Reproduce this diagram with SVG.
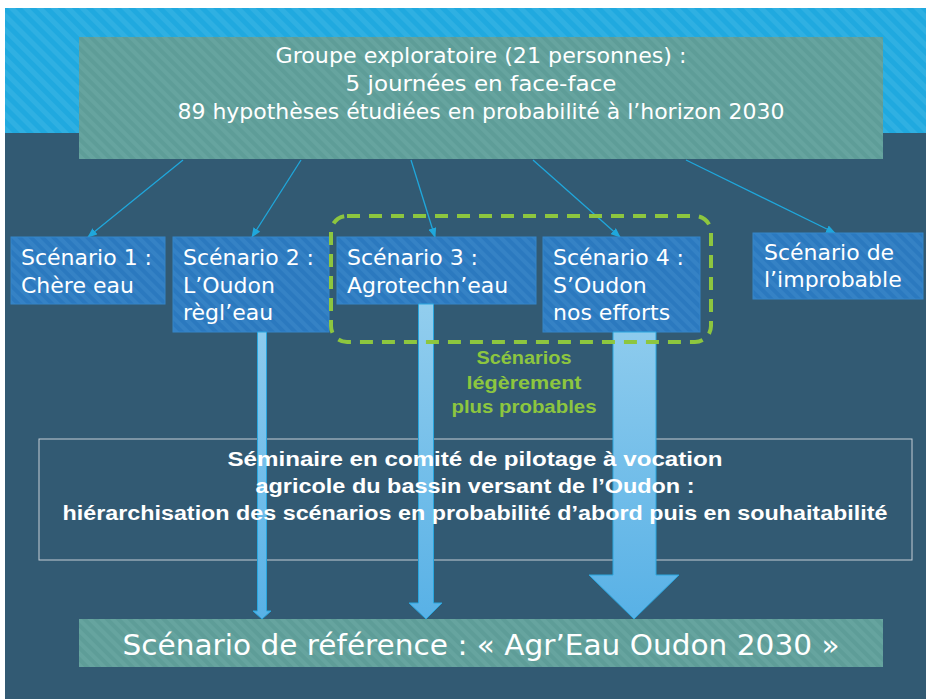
<svg xmlns="http://www.w3.org/2000/svg" width="926" height="699" viewBox="0 0 926 699">
<style>
.t{font-family:"DejaVu Sans","Liberation Sans",sans-serif;fill:#ffffff}
.sc{font-size:22px}
.b{font-family:"Liberation Sans","DejaVu Sans",sans-serif;font-weight:bold;fill:#ffffff;font-size:20px}
.g{font-family:"Liberation Sans","DejaVu Sans",sans-serif;font-weight:bold;fill:#8dc63f;font-size:19px}
.scen{fill:url(#pBlue);stroke:#3585c9;stroke-width:1}
.conn{stroke:#1fa7dc;stroke-width:1.3;fill:none;marker-end:url(#ah)}
.varr{fill:url(#gArr);stroke:#2aa6de;stroke-width:1}
</style>
<defs>
<pattern id="pBand" width="10" height="10" patternUnits="userSpaceOnUse" patternTransform="rotate(-45)">
<rect width="10" height="10" fill="#20a9df"/><rect width="5" height="10" fill="#2fb0e2"/>
</pattern>
<pattern id="pTeal" width="8" height="8" patternUnits="userSpaceOnUse" patternTransform="rotate(-45)">
<rect width="8" height="8" fill="#5e9d98"/><rect width="4" height="8" fill="#66a49f"/>
</pattern>
<pattern id="pBlue" width="8" height="8" patternUnits="userSpaceOnUse" patternTransform="rotate(-45)">
<rect width="8" height="8" fill="#2b79bf"/><rect width="4" height="8" fill="#3582c5"/>
</pattern>
<linearGradient id="gArr" gradientUnits="userSpaceOnUse" x1="0" y1="300" x2="0" y2="619">
<stop offset="0" stop-color="#93ceee"/><stop offset="1" stop-color="#58b1e6"/>
</linearGradient>
<marker id="ah" markerWidth="10" markerHeight="8" refX="9" refY="4" orient="auto" markerUnits="userSpaceOnUse">
<path d="M0,0 L10,4 L0,8 Z" fill="#1fa7dc"/>
</marker>
</defs>

<rect width="926" height="699" fill="#ffffff"/>
<rect x="5" y="8" width="921" height="691" fill="#325a73"/>
<rect x="5" y="8" width="921" height="125" fill="url(#pBand)"/>

<g id="connectors">
<line class="conn" x1="183" y1="160" x2="88" y2="237"/>
<line class="conn" x1="301" y1="160" x2="252" y2="237"/>
<line class="conn" x1="411" y1="160" x2="435" y2="237"/>
<line class="conn" x1="533" y1="160" x2="620" y2="237"/>
<line class="conn" x1="686" y1="160" x2="835" y2="233"/>
</g>

<g id="top">
<rect x="79" y="37" width="804" height="122" fill="url(#pTeal)"/>
<text class="t" font-size="21" text-anchor="middle" x="481" y="63" textLength="411" lengthAdjust="spacingAndGlyphs">Groupe exploratoire (21 personnes) :</text>
<text class="t" font-size="21" text-anchor="middle" x="481" y="91" textLength="271" lengthAdjust="spacingAndGlyphs">5 journées en face-face</text>
<text class="t" font-size="21" text-anchor="middle" x="481" y="119" textLength="607" lengthAdjust="spacingAndGlyphs">89 hypothèses étudiées en probabilité à l’horizon 2030</text>
</g>

<g id="s1">
<rect class="scen" x="11" y="237" width="154" height="67"/>
<text class="t sc" x="21" y="265">Scénario 1 :</text>
<text class="t sc" x="21" y="293">Chère eau</text>
</g>
<g id="s2">
<rect class="scen" x="173" y="237" width="156" height="95"/>
<text class="t sc" x="183" y="265">Scénario 2 :</text>
<text class="t sc" x="183" y="293">L’Oudon</text>
<text class="t sc" x="183" y="320">règl’eau</text>
</g>
<g id="s3">
<rect class="scen" x="337" y="237" width="199" height="67"/>
<text class="t sc" x="347" y="265">Scénario 3 :</text>
<text class="t sc" x="347" y="293">Agrotechn’eau</text>
</g>
<g id="s4">
<rect class="scen" x="543" y="237" width="157" height="95"/>
<text class="t sc" x="553" y="265">Scénario 4 :</text>
<text class="t sc" x="553" y="293">S’Oudon</text>
<text class="t sc" x="553" y="320">nos efforts</text>
</g>
<g id="s5">
<rect class="scen" x="753" y="233" width="170" height="66"/>
<text class="t sc" x="764" y="260">Scénario de</text>
<text class="t sc" x="764" y="287">l’improbable</text>
</g>

<g id="seminaire-box">
<rect x="39" y="439" width="873" height="121" fill="none" stroke="#c5cdd6" stroke-width="1"/>
</g>

<g id="flows">
<path class="varr" d="M257.5,332 H266.5 V611 H271 L262,619 L253,611 H257.5 Z"/>
<path class="varr" d="M418.5,304 H433.5 V603 H442 L426,619 L409,603 H418.5 Z"/>
<path class="varr" d="M613,332 H656 V575 H679 L634,619 L589,575 H613 Z"/>
</g>

<g id="probables">
<rect x="331" y="216" width="380" height="126" rx="16" ry="16" fill="none" stroke="#8dc63f" stroke-width="4" stroke-dasharray="13,9"/>
<text class="g" text-anchor="middle" x="524" y="364" textLength="95" lengthAdjust="spacingAndGlyphs">Scénarios</text>
<text class="g" text-anchor="middle" x="524" y="389" textLength="115" lengthAdjust="spacingAndGlyphs">légèrement</text>
<text class="g" text-anchor="middle" x="524" y="413" textLength="145" lengthAdjust="spacingAndGlyphs">plus probables</text>
</g>

<g id="seminaire">
<text class="b" text-anchor="middle" x="475" y="466" textLength="495" lengthAdjust="spacingAndGlyphs">Séminaire en comité de pilotage à vocation</text>
<text class="b" text-anchor="middle" x="475" y="493" textLength="439" lengthAdjust="spacingAndGlyphs">agricole du bassin versant de l’Oudon :</text>
<text class="b" text-anchor="middle" x="475" y="520" textLength="825" lengthAdjust="spacingAndGlyphs">hiérarchisation des scénarios en probabilité d’abord puis en souhaitabilité</text>
</g>

<g id="reference">
<rect x="79" y="619" width="804" height="48" fill="url(#pTeal)"/>
<text class="t" font-size="28" text-anchor="middle" x="481" y="655" textLength="717" lengthAdjust="spacingAndGlyphs">Scénario de référence : « Agr’Eau Oudon 2030 »</text>
</g>
</svg>
